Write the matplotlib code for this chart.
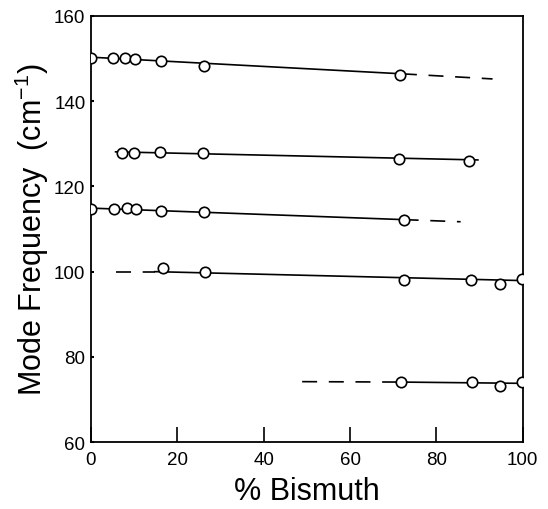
import matplotlib.pyplot as plt

# measured points (% Bi, mode frequency in cm^-1)
x1 = [0, 5.1, 7.9, 10.2, 16.2, 26.2, 71.6]
y1 = [150.1, 150.1, 150.1, 149.9, 149.3, 148.2, 146.2]

x2 = [7.3, 10.0, 16.0, 26.0, 71.3, 87.5]
y2 = [127.8, 127.8, 128.0, 127.8, 126.4, 126.0]

x3 = [0, 5.3, 8.3, 10.4, 16.3, 26.1, 72.4]
y3 = [114.7, 114.7, 114.9, 114.6, 114.2, 114.1, 112.0]

x4 = [16.7, 26.3, 72.5, 88.1, 94.8, 99.9]
y4 = [100.8, 99.8, 98.1, 98.1, 97.1, 98.3]

x5 = [71.9, 88.2, 94.8, 99.9]
y5 = [74.0, 74.0, 73.1, 74.2]

# fitted lines: (x_start, x_end), (y_start, y_end)
solid_x = [(0, 72), (5.7, 89.6), (0, 72.4), (14.8, 100), (72, 100)]
solid_y = [(150.3, 146.4), (128.1, 126.2), (114.9, 112.2), (100.0, 97.9), (74.1, 73.8)]
dash_x = [(72, 93), (72.4, 85.6), (5.9, 14.8), (48.9, 72)]
dash_y = [(146.4, 145.2), (112.2, 111.7), (100.0, 100.0), (74.2, 74.1)]

plt.rcParams['font.family'] = ['Liberation Sans', 'DejaVu Sans']
plt.rcParams['mathtext.fontset'] = 'custom'
plt.rcParams['mathtext.rm'] = 'Liberation Sans'

fig = plt.figure(figsize=(5.48, 5.10), dpi=100)
ax = fig.add_axes([0.166, 0.131, 0.788, 0.836])

for xs, ys in zip(solid_x, solid_y):
    ax.plot(xs, ys, color='black', lw=1.2, zorder=2)
for xs, ys in zip(dash_x, dash_y):
    ax.plot(xs, ys, color='black', lw=1.2, dashes=(9, 7), zorder=2)

for xs, ys in [(x1, y1), (x2, y2), (x3, y3), (x4, y4), (x5, y5)]:
    ax.plot(xs, ys, 'o', ms=7.5, mfc='white', mec='black', mew=1.2, zorder=3)

ax.set_xlim(0, 100)
ax.set_ylim(60, 160)
ax.set_xticks([0, 20, 40, 60, 80, 100])
ax.set_yticks([60, 80, 100, 120, 140, 160])
ax.tick_params(axis='x', direction='in', length=11, width=1.2, labelsize=13.5, pad=6)
ax.tick_params(axis='y', direction='in', length=2.5, width=1.5, labelsize=13.5, pad=4)
for s in ax.spines.values():
    s.set_linewidth(1.3)

ax.set_xlabel('% Bismuth', fontsize=22, labelpad=6)
ax.set_ylabel('Mode Frequency  (cm$^{\\mathrm{-1}}$)', fontsize=22, labelpad=2)

fig.savefig('out.png', dpi=100)
